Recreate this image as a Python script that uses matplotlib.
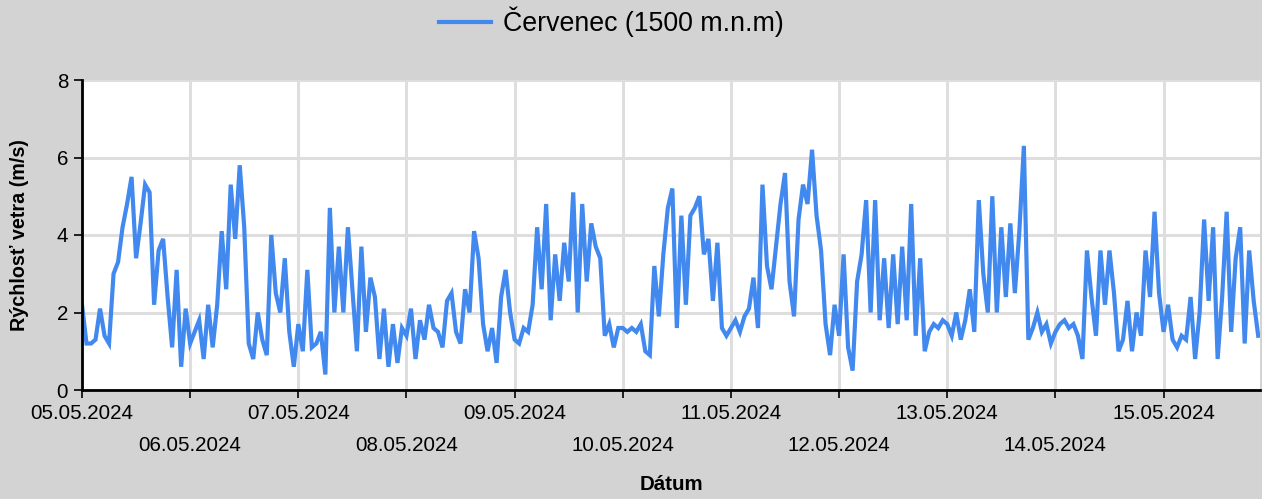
import matplotlib
matplotlib.use("Agg")
import matplotlib.pyplot as plt
import pandas as pd

# Hourly wind speed (m/s) starting 05.05.2024 00:00
speed = [
    2.2, 1.2, 1.2, 1.3, 2.1, 1.4, 1.2, 3.0, 3.3, 4.2, 4.8, 5.5, 3.4, 4.3, 5.3, 5.1,
    2.2, 3.6, 3.9, 2.4, 1.1, 3.1, 0.6, 2.1,
    1.2, 1.5, 1.8, 0.8, 2.2, 1.1, 2.2, 4.1, 2.6, 5.3, 3.9, 5.8, 4.2, 1.2, 0.8, 2.0,
    1.3, 0.9, 4.0, 2.5, 2.0, 3.4, 1.5, 0.6,
    1.7, 1.0, 3.1, 1.1, 1.2, 1.5, 0.4, 4.7, 2.0, 3.7, 2.0, 4.2, 2.6, 1.0, 3.7, 1.5,
    2.9, 2.4, 0.8, 2.1, 0.6, 1.7, 0.7, 1.6,
    1.4, 2.1, 0.8, 1.8, 1.3, 2.2, 1.6, 1.5, 1.1, 2.3, 2.5, 1.5, 1.2, 2.6, 2.0, 4.1,
    3.4, 1.7, 1.0, 1.6, 0.7, 2.4, 3.1, 2.0,
    1.3, 1.2, 1.6, 1.5, 2.2, 4.2, 2.6, 4.8, 1.8, 3.5, 2.3, 3.8, 2.8, 5.1, 2.0, 4.8,
    2.8, 4.3, 3.7, 3.4, 1.4, 1.7, 1.1, 1.6,
    1.6, 1.5, 1.6, 1.5, 1.7, 1.0, 0.9, 3.2, 1.9, 3.5, 4.7, 5.2, 1.6, 4.5, 2.2, 4.5,
    4.7, 5.0, 3.5, 3.9, 2.3, 3.8, 1.6, 1.4,
    1.6, 1.8, 1.5, 1.9, 2.1, 2.9, 1.6, 5.3, 3.2, 2.6, 3.7, 4.8, 5.6, 2.8, 1.9, 4.4,
    5.3, 4.8, 6.2, 4.5, 3.6, 1.7, 0.9, 2.2,
    1.4, 3.5, 1.1, 0.5, 2.8, 3.5, 4.9, 2.0, 4.9, 1.8, 3.4, 1.6, 3.5, 1.7, 3.7, 1.8,
    4.8, 1.4, 3.4, 1.0, 1.5, 1.7, 1.6, 1.8,
    1.7, 1.4, 2.0, 1.3, 1.8, 2.6, 1.5, 4.9, 3.0, 2.0, 5.0, 2.0, 4.2, 2.4, 4.3, 2.5,
    4.1, 6.3, 1.3, 1.6, 2.0, 1.5, 1.7, 1.2,
    1.5, 1.7, 1.8, 1.6, 1.7, 1.4, 0.8, 3.6, 2.4, 1.4, 3.6, 2.2, 3.6, 2.5, 1.0, 1.3,
    2.3, 1.0, 2.0, 1.4, 3.6, 2.4, 4.6, 2.5,
    1.5, 2.2, 1.3, 1.1, 1.4, 1.3, 2.4, 0.8, 2.0, 4.4, 2.3, 4.2, 0.8, 2.4, 4.6, 1.5,
    3.4, 4.2, 1.2, 3.6, 2.3, 1.4,
]
start = "2024-05-05 00:00"
series_label = "Červenec (1500 m.n.m)"
y_label = "Rýchlosť vetra (m/s)"
x_label = "Dátum"
y_ticks = [0, 2, 4, 6, 8]

times = pd.date_range(start, periods=len(speed), freq="h")

plt.rcParams['font.family'] = ['Liberation Sans', 'DejaVu Sans']
fig = plt.figure(figsize=(12.62, 4.99), dpi=100, facecolor="#d3d3d3")
ax = fig.add_axes([82/1262, 109/499, 1178/1262, 310/499])
ax.set_facecolor("white")

line, = ax.plot(times, speed, color="#4189EE", lw=3.0, solid_joinstyle="miter")

ax.set_ylim(0, 8)
ax.set_yticks(y_ticks)
ax.set_xlim(times[0], times[0] + pd.Timedelta(hours=261.4))
days = pd.date_range("2024-05-05", "2024-05-15", freq="D")
ax.set_xticks(days)
labels = []
for i, d in enumerate(days):
    s = d.strftime("%d.%m.%Y")
    labels.append(s if i % 2 == 0 else "\n" + s)
ax.set_xticklabels(labels, linespacing=1.9)

ax.grid(True, color="#dedede", lw=2.2)
ax.set_axisbelow(True)
for s in ["top", "right"]:
    ax.spines[s].set_visible(False)
for s in ["left", "bottom"]:
    ax.spines[s].set_color("black")
    ax.spines[s].set_linewidth(2.0)
ax.tick_params(axis="both", length=6, width=1.2, labelsize=14.8, colors="black")
ax.tick_params(axis="x", pad=4)
ax.tick_params(axis="y", pad=4)

ax.set_ylabel(y_label, fontsize=14.2, fontweight="bold", labelpad=20)
ax.set_xlabel(x_label, fontsize=14.8, fontweight="bold", labelpad=14)

fig.legend([line], [series_label], loc="center", bbox_to_anchor=(611.5/1262, 1 - 22/499),
           frameon=False, fontsize=19.3, handlelength=1.95, handletextpad=0.45)

fig.savefig("out.png", dpi=100, facecolor=fig.get_facecolor())
